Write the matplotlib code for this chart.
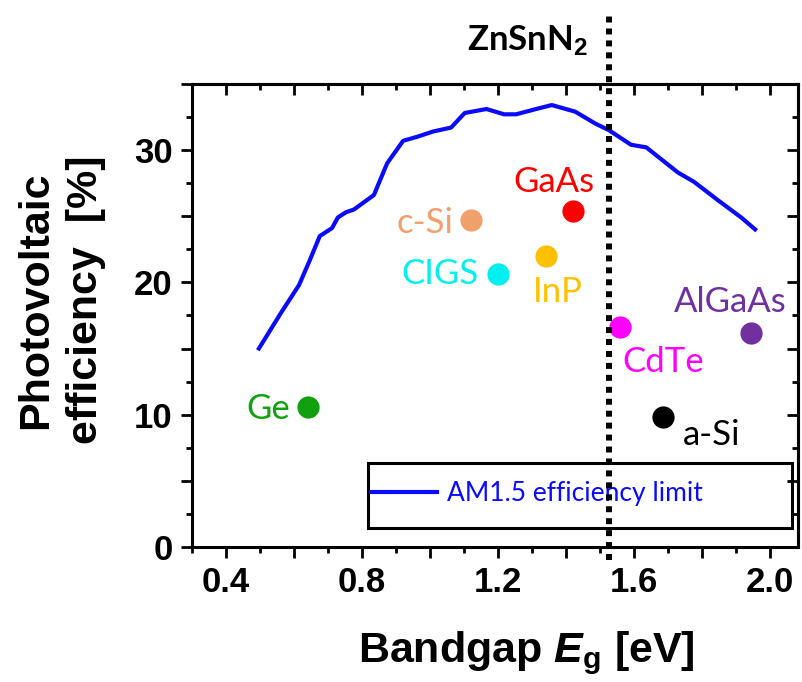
import matplotlib
matplotlib.use("Agg")
import matplotlib.pyplot as plt
from matplotlib.ticker import MultipleLocator
from matplotlib.patches import Rectangle

plt.rcParams['font.family'] = ['Liberation Sans', 'DejaVu Sans']
plt.rcParams['mathtext.fontset'] = 'custom'
plt.rcParams['mathtext.rm'] = 'Liberation Sans:bold'
plt.rcParams['mathtext.it'] = 'Liberation Sans:bold:italic'
plt.rcParams['mathtext.bf'] = 'Liberation Sans:bold'

# AM1.5 efficiency limit curve
limit_eg = [0.497, 0.562, 0.615, 0.647, 0.676, 0.712, 0.729, 0.753, 0.776, 0.835,
            0.874, 0.921, 0.962, 1.009, 1.062, 1.102, 1.166, 1.218, 1.253, 1.312,
            1.358, 1.427, 1.486, 1.526, 1.591, 1.636, 1.729, 1.776, 1.847, 1.915, 1.956]
limit_eff = [15.0, 17.7, 19.8, 21.7, 23.5, 24.1, 24.9, 25.3, 25.5, 26.6,
             29.0, 30.7, 31.0, 31.4, 31.7, 32.8, 33.1, 32.7, 32.7, 33.1,
             33.4, 32.9, 32.0, 31.5, 30.4, 30.2, 28.3, 27.6, 26.2, 24.9, 24.0]

# materials: name, bandgap, efficiency, colour
materials = ['c-Si', 'GaAs', 'InP', 'CIGS', 'CdTe', 'AlGaAs', 'Ge', 'a-Si']
mat_eg = [1.12, 1.42, 1.34, 1.20, 1.56, 1.945, 0.64, 1.685]
mat_eff = [24.7, 25.4, 22.0, 20.6, 16.6, 16.2, 10.6, 9.8]
mat_colors = ['#f0a06a', '#ff0000', '#ffc000', '#00f0f0', '#ff00ff', '#7030a0', '#10a010', '#000000']
# label anchor positions (data units) and alignment
label_x = [1.068, 1.365, 1.376, 1.142, 1.686, 1.884, 0.588, 1.828]
label_y = [24.5, 27.6, 19.3, 20.6, 14.0, 18.5, 10.4, 8.5]
label_ha = ['right', 'center', 'center', 'right', 'center', 'center', 'right', 'center']

zsn_eg = 1.525

fig = plt.figure(figsize=(8.03, 6.82), dpi=100)
ax = fig.add_axes([0.239, 0.198, 0.7548, 0.679])

ax.plot(limit_eg, limit_eff, color='#0a0aff', lw=3.0, label='AM1.5 efficiency limit', zorder=3)

for i, name in enumerate(materials):
    ax.plot(mat_eg[i], mat_eff[i], 'o', ms=16, color=mat_colors[i], mec='none', zorder=4)
    ax.text(label_x[i], label_y[i], name, color=mat_colors[i], fontsize=25,
            family=['Lato', 'DejaVu Sans'], ha=label_ha[i], va='center', zorder=4)

# ZnSnN2 bandgap line, running past the frame
ax.plot([zsn_eg, zsn_eg], [-1.0, 40.5], color='black', lw=4.3, ls=(0, (1, 1)),
        clip_on=False, zorder=7)
ax.text(zsn_eg - 0.06, 38.3, r'ZnSnN$_2$', fontsize=25, fontweight='bold',
        family=['Lato', 'DejaVu Sans'], ha='right', va='center', clip_on=False)

ax.set_xlim(0.3, 2.082)
ax.set_ylim(0, 35)

ax.xaxis.set_major_locator(MultipleLocator(0.2))
ax.xaxis.set_minor_locator(MultipleLocator(0.1))
ax.yaxis.set_major_locator(MultipleLocator(5))
ax.yaxis.set_minor_locator(MultipleLocator(2.5))
xt = ax.get_xticks()
ax.set_xticks(xt)
ax.set_xticklabels(['%.1f' % v if abs(round(v / 0.4) * 0.4 - v) < 1e-6 else '' for v in xt])
yt = ax.get_yticks()
ax.set_yticks(yt)
ax.set_yticklabels(['%d' % v if int(round(v)) % 10 == 0 else '' for v in yt])
ax.set_xlim(0.3, 2.082)
ax.set_ylim(0, 35)

ax.tick_params(which='both', direction='out', top=False, right=False, width=2)
ax.tick_params(which='major', length=8, pad=6, labelsize=25)
ax.tick_params(which='minor', length=4.5)
for lab in ax.get_xticklabels() + ax.get_yticklabels():
    lab.set_fontweight('bold')
for sp in ax.spines.values():
    sp.set_linewidth(2.2)

secx = ax.secondary_xaxis('top')
secx.xaxis.set_major_locator(MultipleLocator(0.2))
secx.xaxis.set_minor_locator(MultipleLocator(0.1))
secx.tick_params(which='both', direction='in', labeltop=False, width=2)
secx.tick_params(which='major', length=8)
secx.tick_params(which='minor', length=4.5)
secx.spines['top'].set_linewidth(2.2)
secy = ax.secondary_yaxis('right')
secy.yaxis.set_major_locator(MultipleLocator(5))
secy.yaxis.set_minor_locator(MultipleLocator(2.5))
secy.tick_params(which='both', direction='in', labelright=False, width=2)
secy.tick_params(which='major', length=8)
secy.tick_params(which='minor', length=4.5)
secy.spines['right'].set_linewidth(2.2)

# legend: boxed frame drawn separately
ax.add_patch(Rectangle((0.290, 0.041), 0.700, 0.140, transform=ax.transAxes,
                       fill=False, edgecolor='black', lw=2.2, zorder=5))
leg = ax.legend(loc='center left', bbox_to_anchor=(0.296, 0.115), frameon=False,
                prop={'family': ['Lato', 'DejaVu Sans'], 'size': 19},
                handlelength=2.5, handletextpad=0.35, borderaxespad=0, borderpad=0)
for t in leg.get_texts():
    t.set_color('#0a0aff')
leg.set_zorder(5)

fig.text(0.076, 0.56, 'Photovoltaic\nefficiency  [%]', rotation=90, ha='center', va='center',
         fontsize=31, fontweight='bold', multialignment='center', linespacing=1.3)
fig.text(0.656, 0.042, r'Bandgap $\mathit{E}_\mathrm{g}$ [eV]', ha='center', va='center',
         fontsize=31, fontweight='bold')

fig.savefig('out.png', dpi=100)
